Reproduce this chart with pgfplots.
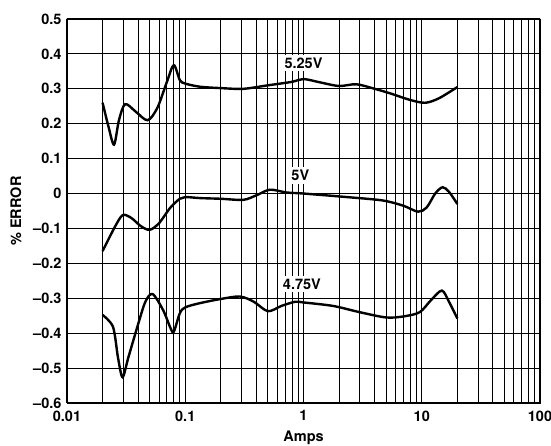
\documentclass[border=0pt]{standalone}
\usepackage{fontspec}
\setmainfont{TeX Gyre Heros}
\usepackage{pgfplots}
\pgfplotsset{compat=1.18}
\newcommand{\lblfont}{\fontsize{14.5}{16}\selectfont\bfseries}
\tikzset{curve/.style={black, line width=2.4pt, smooth, no markers}}
\begin{document}
\begin{tikzpicture}
\begin{axis}[
    at={(0,0)}, anchor=south west,
    scale only axis, width=473pt, height=384pt,
    xmode=log, log basis x=10,
    xmin=0.01, xmax=100, ymin=-0.6, ymax=0.5,
    xtick={0.01,0.1,1,10,100},
    xticklabels={0.01,0.1,1,10,100},
    minor xtick={0.02,0.03,0.04,0.05,0.06,0.07,0.08,0.09,
                 0.2,0.3,0.4,0.5,0.6,0.7,0.8,0.9,
                 2,3,4,5,6,7,8,9,20,30,40,50,60,70,80,90},
    ytick={-0.6,-0.5,-0.4,-0.3,-0.2,-0.1,0,0.1,0.2,0.3,0.4,0.5},
    yticklabels={–0.6,–0.5,–0.4,–0.3,–0.2,–0.1,0,0.1,0.2,0.3,0.4,0.5},
    major tick length=0pt, minor tick length=0pt,
    xmajorgrids, xminorgrids, ymajorgrids,
    major grid style={black, line width=1.1pt},
    minor grid style={black, line width=0.9pt},
    ticklabel style={font=\lblfont},
    xticklabel style={yshift=-4pt},
    yticklabel style={xshift=-2pt},
    xlabel={Amps}, ylabel={\% ERROR},
    label style={font=\lblfont},
    xlabel style={at={(axis description cs:0.5,-0.091)}, anchor=center},
    ylabel style={at={(axis description cs:-0.108,0.5)}, anchor=center},
]
% 5.25V
\addplot[curve] coordinates {
(0.02,0.26) (0.0225,0.19) (0.025,0.14) (0.0275,0.21) (0.031,0.256)
(0.038,0.235) (0.048,0.21) (0.058,0.245) (0.07,0.32) (0.08,0.368)
(0.09,0.325) (0.1,0.315) (0.133,0.306) (0.2,0.302) (0.31,0.30)
(0.5,0.31) (0.8,0.32) (1,0.328) (1.4,0.318) (2.0,0.308) (2.8,0.313)
(4,0.30) (5.4,0.287) (8,0.268) (10.7,0.26) (14,0.273) (20,0.305)
};
% 5V
\addplot[curve] coordinates {
(0.02,-0.165) (0.025,-0.1) (0.0295,-0.062) (0.035,-0.07) (0.042,-0.093)
(0.05,-0.104) (0.06,-0.085) (0.075,-0.04) (0.09,-0.015) (0.1,-0.01)
(0.133,-0.013) (0.2,-0.015) (0.31,-0.018) (0.4,-0.005) (0.52,0.011)
(0.72,0.003) (1,0.0) (2.5,-0.011) (4.7,-0.02) (7,-0.035) (9.3,-0.052)
(11,-0.04) (13,0.0) (15,0.018) (17,0.005) (20,-0.03)
};
% 4.75V
\addplot[curve] coordinates {
(0.02,-0.348) (0.0245,-0.382) (0.027,-0.47) (0.0295,-0.526) (0.033,-0.47)
(0.0395,-0.38) (0.046,-0.31) (0.053,-0.288) (0.065,-0.334) (0.075,-0.385)
(0.08,-0.396) (0.09,-0.343) (0.1,-0.326) (0.133,-0.314) (0.2,-0.302)
(0.29,-0.295) (0.38,-0.31) (0.5,-0.337) (0.65,-0.322) (0.85,-0.31)
(1,-0.312) (1.78,-0.322) (3,-0.34) (5,-0.355) (7,-0.352) (9.6,-0.34)
(12,-0.305) (14.8,-0.278) (17,-0.31) (20,-0.358)
};
\node[fill=white, inner sep=3pt, font=\lblfont] at (axis cs:1,0.374) {5.25V};
\node[fill=white, inner sep=3pt, font=\lblfont] at (axis cs:0.94,0.051) {5V};
\node[fill=white, inner sep=3pt, font=\lblfont] at (axis cs:0.97,-0.259) {4.75V};
\draw[black, line width=2.2pt] (rel axis cs:0,0) rectangle (rel axis cs:1,1);
\end{axis}
\pgfresetboundingbox
\useasboundingbox (-67pt,-43pt) rectangle (484pt,403pt);
\end{tikzpicture}
\end{document}
